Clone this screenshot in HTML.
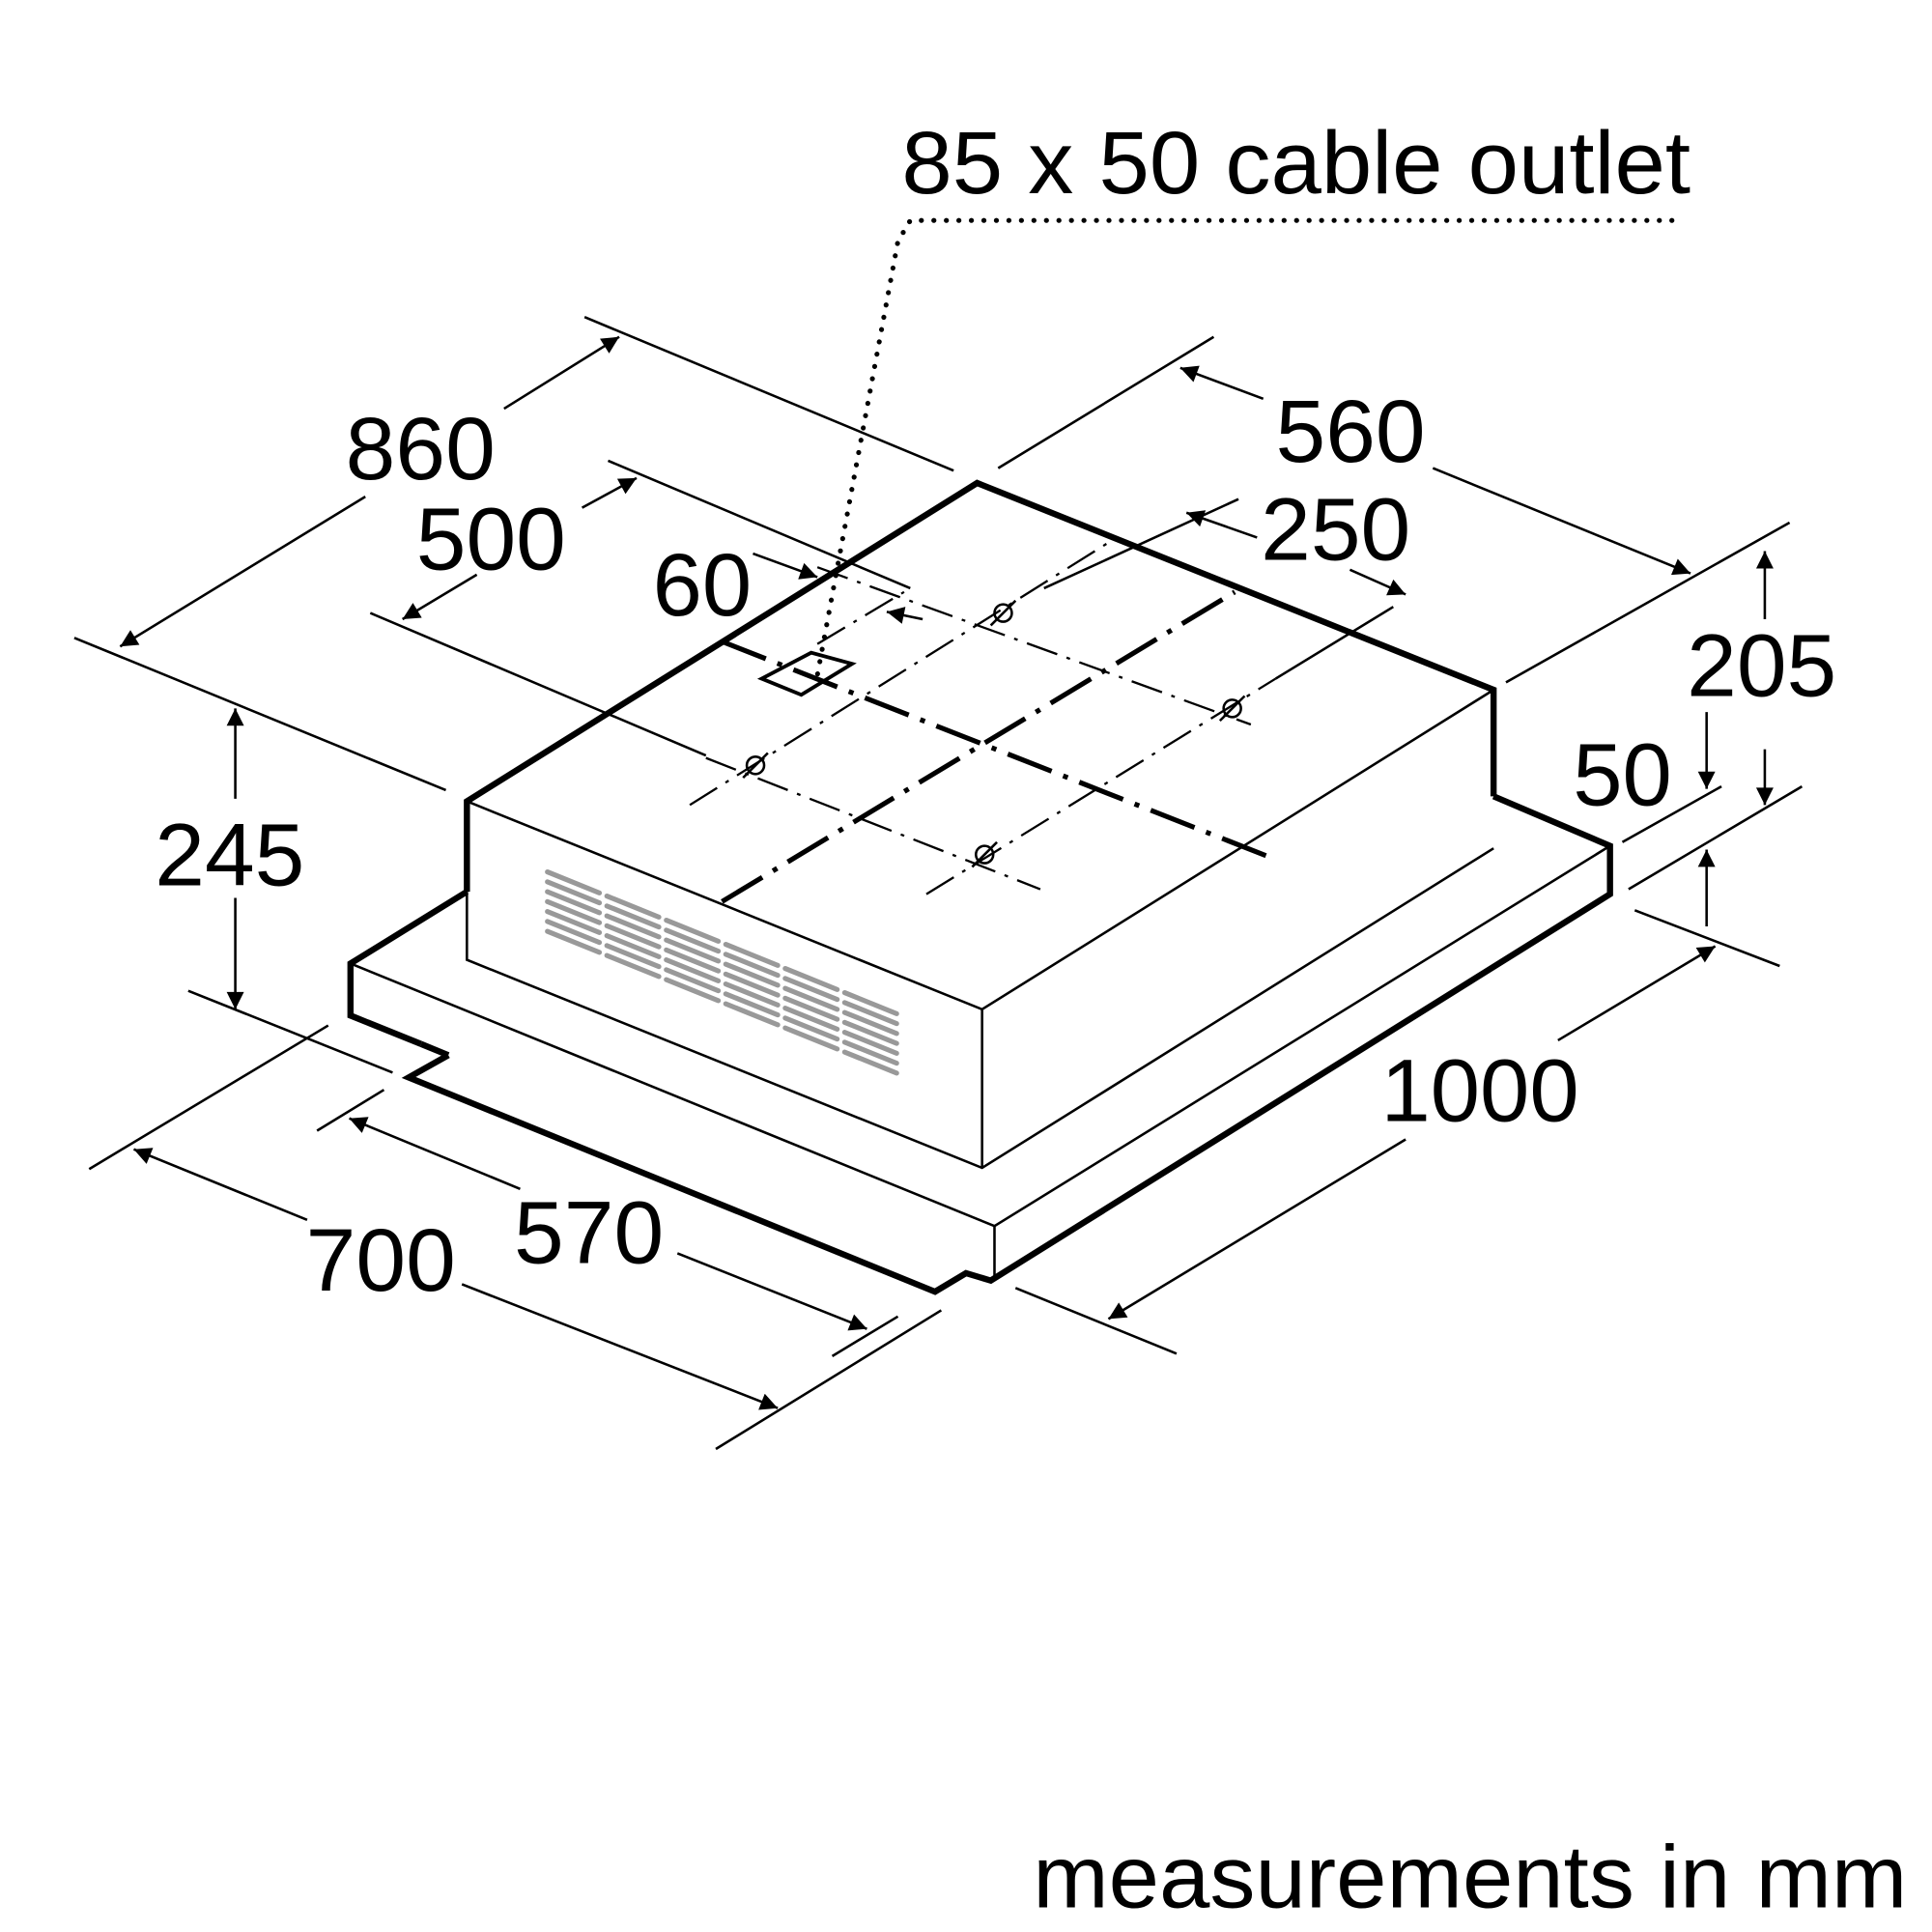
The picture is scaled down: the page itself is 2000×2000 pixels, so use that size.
<!DOCTYPE html>
<html><head><meta charset="utf-8"><style>html,body{margin:0;padding:0;background:#fff}svg{display:block}</style></head>
<body>
<svg width="2000" height="2000" viewBox="0 0 1560 1560" xmlns="http://www.w3.org/2000/svg" font-family="Liberation Sans, sans-serif">
<defs>
<marker id="a" viewBox="0 0 10 10" refX="10" refY="5" markerWidth="30" markerHeight="14" markerUnits="userSpaceOnUse" orient="auto"><path d="M0,0L10,5L0,10z" fill="#000"/></marker>
</defs>
<rect width="1560" height="1560" fill="#fff"/>
<g stroke="#999" stroke-width="4" stroke-linecap="round">
<g id="col">
<line x1="442" y1="704" x2="484" y2="721"/><line x1="442" y1="712" x2="484" y2="729"/><line x1="442" y1="720" x2="484" y2="737"/><line x1="442" y1="728" x2="484" y2="745"/><line x1="442" y1="736" x2="484" y2="753"/><line x1="442" y1="744" x2="484" y2="761"/><line x1="442" y1="752" x2="484" y2="769"/>
</g>
<use href="#col" transform="translate(48,19.5)"/><use href="#col" transform="translate(96,39)"/><use href="#col" transform="translate(144,58.5)"/><use href="#col" transform="translate(192,78)"/><use href="#col" transform="translate(240,97.5)"/>
</g>
<g stroke="#000" stroke-width="2" fill="none">
<polyline points="377,647 793,815 1206,557"/>
<line x1="793" y1="815" x2="793" y2="943"/>
<polyline points="377,720 377,775 793,943 1206,685"/>
<polyline points="283,778 803,990 1300,683"/>
<line x1="803" y1="990" x2="803" y2="1032"/>
</g>
<g stroke="#000" stroke-width="5" fill="none" stroke-linejoin="miter">
<polyline points="377,720 377,647 789,390 1206,557 1206,643"/>
<polyline points="377,720 283,778 283,820 340,843"/>
<polyline points="362,852 330,870 755,1043 780,1028 800,1034 1300,722 1300,683 1206,643"/>
<line x1="340" y1="843" x2="362" y2="852"/>
<polygon points="615,548 655,527 688,536 647,561" stroke-width="3"/>
</g>
<g stroke="#000" stroke-width="4" fill="none" stroke-dasharray="38,10,4,10">
<line x1="583" y1="518" x2="1025" y2="692"/>
<line x1="583" y1="728" x2="997" y2="478"/>
</g>
<g stroke="#000" stroke-width="1.8" fill="none" stroke-dasharray="26,8,3,8">
<line x1="660" y1="458" x2="1010" y2="585"/>
<line x1="570" y1="612" x2="840" y2="718"/>
<line x1="748" y1="722" x2="1030" y2="548"/>
<line x1="557" y1="650" x2="900" y2="435"/>
<line x1="660" y1="520" x2="730" y2="478"/>
</g>
<g stroke="#000" stroke-width="2" fill="none">
<circle cx="810" cy="495" r="7"/><line x1="800" y1="505" x2="820" y2="485"/>
<circle cx="995" cy="572" r="7"/><line x1="985" y1="582" x2="1005" y2="562"/>
<circle cx="610" cy="618" r="7"/><line x1="600" y1="628" x2="620" y2="608"/>
<circle cx="795" cy="690" r="7"/><line x1="785" y1="700" x2="805" y2="680"/>
</g>
<polyline points="1350,178 735,178 725,195 660,545" stroke="#000" stroke-width="4" fill="none" stroke-dasharray="0.1,10" stroke-linecap="round"/>
<g stroke="#000" stroke-width="2" fill="none">
<line x1="60" y1="515" x2="360" y2="638"/><line x1="472" y1="256" x2="770" y2="380"/>
<line x1="299" y1="495" x2="570" y2="610"/><line x1="491" y1="372" x2="735" y2="475"/>
<line x1="806" y1="378" x2="980" y2="272"/><line x1="1216" y1="551" x2="1445" y2="422"/>
<line x1="843" y1="475" x2="1000" y2="403"/><line x1="1030" y1="548" x2="1125" y2="490"/>
<line x1="1310" y1="680" x2="1390" y2="635"/><line x1="1315" y1="718" x2="1455" y2="635"/><line x1="1320" y1="735" x2="1437" y2="780"/>
<line x1="820" y1="1040" x2="950" y2="1093"/>
<line x1="152" y1="800" x2="317" y2="866"/>
<line x1="72" y1="944" x2="265" y2="828"/><line x1="578" y1="1170" x2="760" y2="1058"/>
<line x1="256" y1="913" x2="310" y2="880"/><line x1="672" y1="1095" x2="725" y2="1063"/>
</g>
<g stroke="#000" stroke-width="2" fill="none" marker-end="url(#a)">
<line x1="295" y1="401" x2="97" y2="522"/><line x1="407" y1="330" x2="500" y2="272"/>
<line x1="385" y1="464" x2="325" y2="500"/><line x1="470" y1="410" x2="514" y2="386"/>
<line x1="608" y1="447" x2="660" y2="466"/>
<line x1="1020" y1="322" x2="953" y2="297"/><line x1="1157" y1="378" x2="1365" y2="463"/>
<line x1="1015" y1="434" x2="958" y2="414"/><line x1="1090" y1="460" x2="1135" y2="480"/>
<line x1="745" y1="500" x2="716" y2="494"/>
<line x1="1425" y1="500" x2="1425" y2="445"/><line x1="1425" y1="605" x2="1425" y2="650"/>
<line x1="1378" y1="575" x2="1378" y2="637"/><line x1="1378" y1="748" x2="1378" y2="686"/>
<line x1="1258" y1="840" x2="1385" y2="764"/><line x1="1135" y1="920" x2="895" y2="1065"/>
<line x1="190" y1="645" x2="190" y2="572"/><line x1="190" y1="725" x2="190" y2="815"/>
<line x1="248" y1="985" x2="108" y2="928"/><line x1="373" y1="1037" x2="628" y2="1137"/>
<line x1="420" y1="960" x2="282" y2="903"/><line x1="547" y1="1012" x2="700" y2="1073"/>
</g>
<g font-size="72" fill="#000">
<text x="728" y="156" textLength="637" lengthAdjust="spacingAndGlyphs">85 x 50 cable outlet</text>
<text x="279" y="387" textLength="121" lengthAdjust="spacingAndGlyphs">860</text>
<text x="336" y="460" textLength="121" lengthAdjust="spacingAndGlyphs">500</text>
<text x="527" y="497" textLength="80" lengthAdjust="spacingAndGlyphs">60</text>
<text x="1030" y="373" textLength="121" lengthAdjust="spacingAndGlyphs">560</text>
<text x="1018" y="452" textLength="121" lengthAdjust="spacingAndGlyphs">250</text>
<text x="1362" y="562" textLength="121" lengthAdjust="spacingAndGlyphs">205</text>
<text x="1270" y="650" textLength="80" lengthAdjust="spacingAndGlyphs">50</text>
<text x="1115" y="905" textLength="160" lengthAdjust="spacingAndGlyphs">1000</text>
<text x="125" y="715" textLength="121" lengthAdjust="spacingAndGlyphs">245</text>
<text x="247" y="1042" textLength="121" lengthAdjust="spacingAndGlyphs">700</text>
<text x="415" y="1020" textLength="121" lengthAdjust="spacingAndGlyphs">570</text>
<text x="834" y="1540" textLength="706" lengthAdjust="spacingAndGlyphs">measurements in mm</text>
</g>
</svg>
</body></html>
